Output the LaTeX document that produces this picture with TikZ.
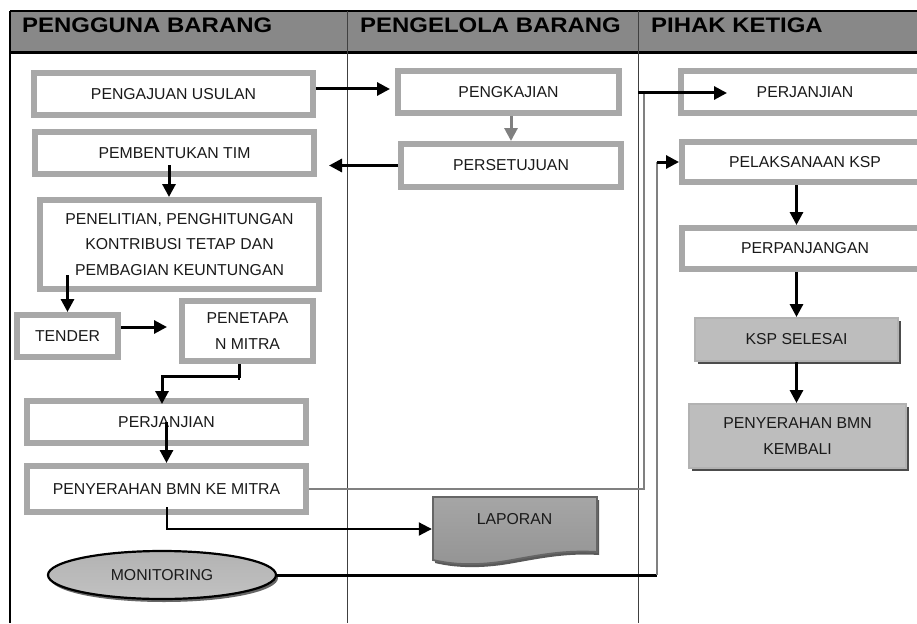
\documentclass[tikz,border=0pt]{standalone}
\usepackage{fontspec}
\setmainfont{Liberation Sans}
\usetikzlibrary{positioning, arrows.meta, shapes.geometric, shadows}
\definecolor{boxgray}{HTML}{A8A8A8}
\definecolor{headgray}{HTML}{888888}
\definecolor{linegray}{HTML}{808080}
\definecolor{textgray}{HTML}{1A1A1A}

\begin{document}
\begin{tikzpicture}[x=1pt, y=-1pt,
    box/.style={draw=boxgray, line width=6pt, fill=white, inner sep=0pt, align=center,
        text=textgray, font=\fontsize{15.8}{25.5}\selectfont},
    shadebox/.style={draw=black!30, line width=2pt, top color=black!26, middle color=black!40,
        bottom color=black!26, inner sep=0pt, align=center, text=textgray,
        font=\fontsize{15.8}{25.5}\selectfont,
        drop shadow={shadow xshift=3pt, shadow yshift=-3pt, fill=black!70, opacity=1}},
    lane/.style={anchor=base west, inner sep=0pt, font=\fontsize{21}{21}\selectfont\bfseries},
    arr/.style={-{Triangle[length=13pt,width=13pt]}, line width=3pt},
    link/.style={linegray, line width=1.8pt}]
    \useasboundingbox (0,0) rectangle (917,623);

    % lanes
    \fill[headgray] (10,11) rectangle (925,53);
    \draw[line width=1.5pt] (10,11) -- (925,11);
    \draw[line width=3pt] (10,53) -- (925,53);
    \draw[line width=2.2pt] (10,11) -- (10,623);
    \draw[line width=1pt, black!75] (347,11) -- (347,623);
    \draw[line width=1pt, black!75] (638,11) -- (638,623);
    \node[lane] (pengguna) at (22,33) {\scalebox{1.14}[1]{PENGGUNA BARANG}};
    \node[lane] (pengelola) at (360,33) {\scalebox{1.14}[1]{PENGELOLA BARANG}};
    \node[lane] (pihak) at (651,33) {\scalebox{1.14}[1]{PIHAK KETIGA}};

    % pengguna barang
    \node[box, minimum width=279pt, minimum height=42pt] (usulan) at (173.5,94) {PENGAJUAN USULAN};
    \node[box, minimum width=279pt, minimum height=42pt] (tim) at (174.5,153) {PEMBENTUKAN TIM};
    \node[box, minimum width=279pt, minimum height=89pt] (penelitian) at (179.5,244.5)
        {PENELITIAN, PENGHITUNGAN\\KONTRIBUSI TETAP DAN\\PEMBAGIAN KEUNTUNGAN};
    \node[box, minimum width=101pt, minimum height=42pt] (tender) at (67.5,336) {TENDER};
    \node[box, minimum width=131pt, minimum height=60pt] (penetapan) at (247.5,331) {PENETAPA\\N MITRA};
    \node[box, minimum width=279pt, minimum height=42pt] (perjanjianA) at (166.5,422) {PERJANJIAN};
    \node[box, minimum width=279pt, minimum height=46pt] (penyerahan) at (166.5,489) {PENYERAHAN BMN KE MITRA};
    \node[ellipse, draw=black, line width=2.2pt, top color=black!30, bottom color=black!24,
        minimum width=228pt, minimum height=48pt, inner sep=0pt, text=textgray,
        font=\fontsize{15.8}{18}\selectfont,
        drop shadow={shadow xshift=2pt, shadow yshift=-3pt, fill=black!60, opacity=1}]
        (monitoring) at (162,575) {MONITORING};

    % pengelola barang
    \node[box, minimum width=221pt, minimum height=42pt] (pengkajian) at (508.5,92) {PENGKAJIAN};
    \node[box, minimum width=220pt, minimum height=43pt] (persetujuan) at (511,165.5) {PERSETUJUAN};
    \path[draw=black!60, line width=1.8pt, top color=black!35, middle color=black!57, bottom color=black!42,
        drop shadow={shadow xshift=2pt, shadow yshift=-3pt, fill=black!65, opacity=1}]
        (433,497) -- (597,497) -- (597,552) .. controls (565,550) and (540,555) .. (512,560)
        .. controls (485,565) and (458,566) .. (433,560) -- cycle;
    \node[inner sep=0pt, minimum width=165pt, text=textgray, font=\fontsize{15.8}{18}\selectfont]
        (laporan) at (514.5,519) {LAPORAN};

    % pihak ketiga
    \node[box, minimum width=248pt, minimum height=42pt] (perjanjianC) at (805,92) {PERJANJIAN};
    \node[box, minimum width=246pt, minimum height=40pt] (pelaksanaan) at (805,162) {PELAKSANAAN KSP};
    \node[box, minimum width=246pt, minimum height=41pt] (perpanjangan) at (805,248.5) {PERPANJANGAN};
    \node[shadebox, minimum width=203pt, minimum height=43pt] (ksp) at (796.5,339.5) {KSP SELESAI};
    \node[shadebox, minimum width=217pt, minimum height=64pt] (kembali) at (797.5,436) {PENYERAHAN BMN\\KEMBALI};

    \coordinate (j1) at (644,93);
    \coordinate (k1) at (657,575);
    \coordinate (k2) at (657,162);

    % arrows
    \draw[arr, shorten >=5pt] ([yshift=5pt]usulan.east) -- ([yshift=5pt]usulan.east -| pengkajian.west);
    \draw[arr, linegray] (persetujuan.north |- pengkajian.south) -- (persetujuan.north);
    \draw[arr, shorten >=12pt] (persetujuan.west) -- (persetujuan.west -| tim.east);
    \draw[arr] ([xshift=-5.5pt,yshift=-12pt]tim.center) -- ([xshift=-5.5pt]tim.center |- penelitian.north);
    \draw[arr] ([yshift=17pt]penelitian.south -| tender.north) -- (tender.north);
    \draw[arr, shorten >=12pt] ([yshift=9pt]tender.east) -- ([yshift=9pt]tender.east -| penetapan.west);
    \draw[line width=2.2pt] ([xshift=-8.5pt]penetapan.south) -- ++(0,16);
    \draw[arr, shorten >=-6pt] ([xshift=-8.5pt]penetapan.south) -- ++(0,12) -| ([xshift=-4.5pt]perjanjianA.north);
    \draw[arr] (perjanjianA.center) -- (penyerahan.north);
    \draw[line width=2pt] ([yshift=8pt]penyerahan.south) -- ++(0,14);
    \draw[arr, line width=2pt] ([yshift=8pt]penyerahan.south) |- ([yshift=-10pt]laporan.west);
    \draw[link] (penyerahan.east) -| (j1);
    \draw[arr] ([xshift=-6pt]j1) -- ++(89,0);
    \draw[line width=3pt] (monitoring.east) -- (k1);
    \draw[link] (k1) -- (k2);
    \draw[arr] (k2) -- (k2 -| pelaksanaan.west);
    \draw[arr] (ksp.north |- pelaksanaan.south) -- (ksp.north |- perpanjangan.north);
    \draw[arr] (ksp.north |- perpanjangan.south) -- (ksp.north);
    \draw[arr] (ksp.south) -- (ksp.south |- kembali.north);
\end{tikzpicture}
\end{document}
